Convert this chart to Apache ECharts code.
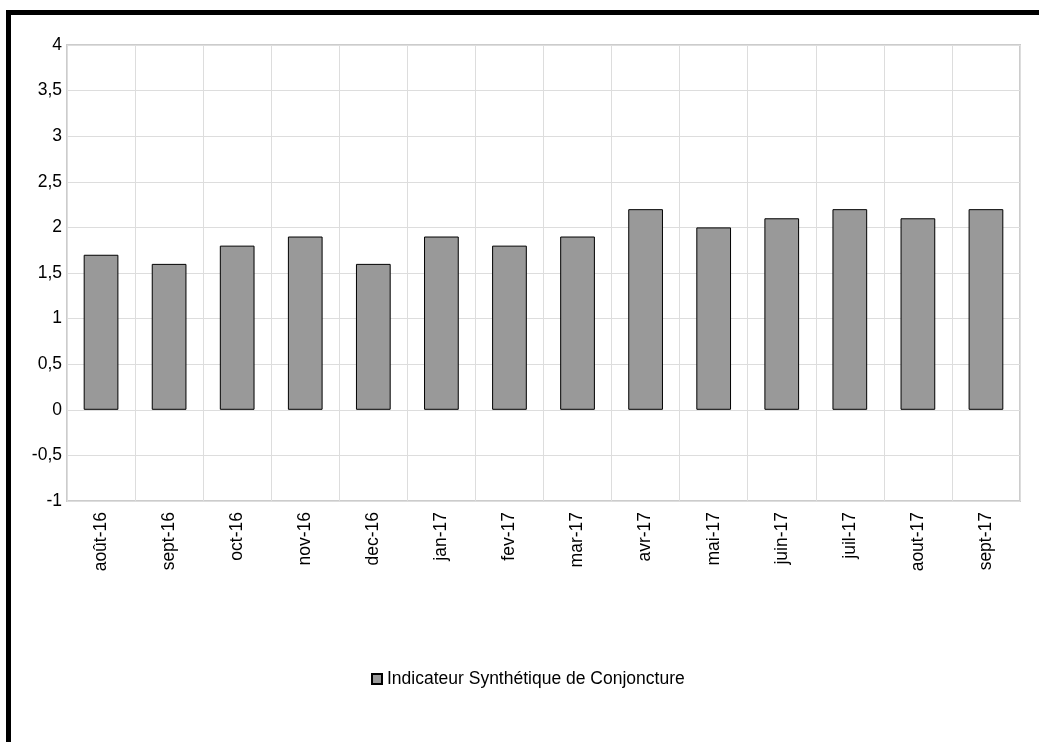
<!DOCTYPE html>
<html>
<head>
<meta charset="utf-8">
<script src="https://cdn.jsdelivr.net/npm/echarts@6/dist/echarts.min.js"></script>
<style>
html,body{margin:0;padding:0;background:#fff;overflow:hidden;}
#frame{position:absolute;left:6px;top:10px;width:1100px;height:800px;border-left:5px solid #000;border-top:5px solid #000;box-sizing:border-box;}
#chart{position:absolute;left:0;top:0;width:1039px;height:742px;}
</style>
</head>
<body>
<div id="frame"></div>
<div id="chart"></div>
<script>
const categories = ['août-16','sept-16','oct-16','nov-16','dec-16','jan-17','fev-17','mar-17','avr-17','mai-17','juin-17','juil-17','aout-17','sept-17'];
const values = [1.7,1.6,1.8,1.9,1.6,1.9,1.8,1.9,2.2,2.0,2.1,2.2,2.1,2.2];
const seriesName = 'Indicateur Synthétique de Conjoncture';

const chart = echarts.init(document.getElementById('chart'), null, {renderer:'canvas'});
chart.setOption({
  animation:false,
  backgroundColor:'transparent',
  textStyle:{fontFamily:'Liberation Sans, Arial, sans-serif'},
  grid:{left:67,top:45,width:953,height:456,show:true,borderColor:'#cccccc',borderWidth:2,containLabel:false},
  legend:{
    data:[seriesName],
    left:366,
    top:665,
    icon:'rect',
    itemWidth:10,
    itemHeight:10,
    itemGap:4,
    textStyle:{fontSize:17.5,color:'#000',fontFamily:'Liberation Sans, Arial, sans-serif'}
  },
  xAxis:{
    type:'category',
    data:categories,
    boundaryGap:true,
    axisLine:{show:false},
    axisTick:{show:false},
    splitLine:{show:true,lineStyle:{color:'#dddddd',width:1}},
    axisLabel:{rotate:90,fontSize:17.5,color:'#000',margin:11,interval:0}
  },
  yAxis:{
    type:'value',
    min:-1,max:4,interval:0.5,
    axisLine:{show:false},
    axisTick:{show:false},
    splitLine:{show:true,lineStyle:{color:'#dddddd',width:1}},
    axisLabel:{fontSize:17.5,color:'#000',margin:5,formatter:v=>String(v).replace('.',',')}
  },
  series:[{
    name:seriesName,
    type:'bar',
    data:values,
    barWidth:'51%',
    itemStyle:{color:'#999999',borderColor:'#000000',borderWidth:1}
  }]
});
</script>
</body>
</html>
